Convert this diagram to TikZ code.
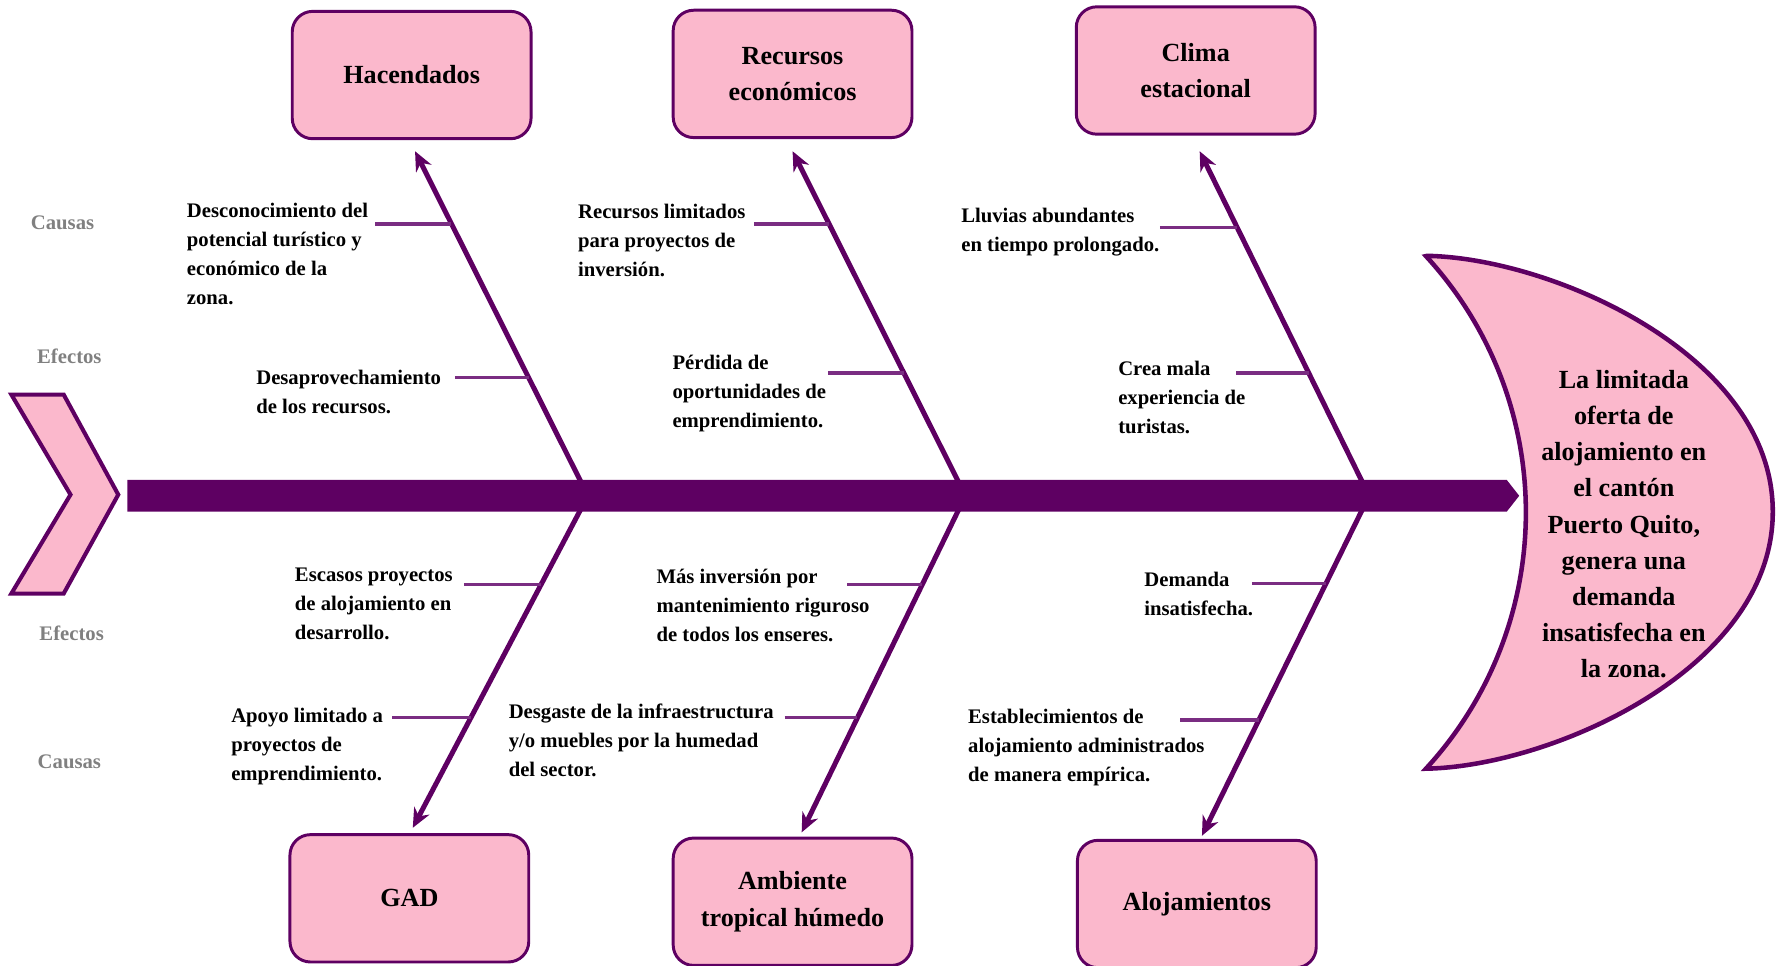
\documentclass[tikz,border=0pt]{standalone}
\usepackage{fontspec}
\setmainfont{Liberation Serif}
\usetikzlibrary{arrows.meta}

\definecolor{rosa}{RGB}{251,184,204}
\definecolor{morado}{RGB}{94,0,98}
\definecolor{lila}{RGB}{122,45,130}
\definecolor{gris}{RGB}{128,128,128}

\tikzset{
    caja/.style = {draw = morado, line width = 1.3pt, fill = rosa, rounded corners = 9pt,
        minimum width = 105pt, minimum height = 56pt, align = center,
        font = \fontsize{11.5}{16}\selectfont\bfseries},
    nota/.style = {anchor = north west, inner sep = 0pt, align = left,
        font = \fontsize{9.1}{12.75}\selectfont\bfseries},
    lado/.style = {text = gris, inner sep = 0pt, font = \fontsize{9.1}{11}\selectfont\bfseries},
    hueso/.style = {draw = morado, line width = 2.2pt, -{Stealth[length = 8.5pt, width = 7.5pt]}},
    rama/.style = {draw = lila, line width = 1.5pt},
}

\begin{document}
\begin{tikzpicture}[x = 0.5pt, y = -0.5pt]
    \useasboundingbox (0, 0) rectangle (1568, 849);

    % categorias
    \node [caja] (hac) at (362, 66) {Hacendados};
    \node [caja] (rec) at (697, 65) {Recursos\\económicos};
    \node [caja] (cli) at (1051.5, 62) {Clima\\estacional};
    \node [caja] (gad) at (360, 790) {GAD};
    \node [caja] (amb) at (697, 793) {Ambiente\\tropical húmedo};
    \node [caja] (alo) at (1052.5, 795) {Alojamientos};

    % huesos
    \coordinate (e1) at (517, 436);
    \coordinate (e2) at (849, 436);
    \coordinate (e3) at (1204, 436);
    \coordinate (p1) at (365, 133);
    \coordinate (p2) at (697, 133);
    \coordinate (p3) at (1055, 133);
    \coordinate (q1) at (363, 728);
    \coordinate (q2) at (705, 732);
    \coordinate (q3) at (1057, 735);

    \draw [hueso] (e1) -- (p1);
    \draw [hueso] (e2) -- (p2);
    \draw [hueso] (e3) -- (p3);
    \draw [hueso] (e1) -- (q1);
    \draw [hueso] (e2) -- (q2);
    \draw [hueso] (e3) -- (q3);

    % espina
    \fill [morado] (112, 422) -- (1325, 422) -- (1336, 436) -- (1325, 450) -- (112, 450) -- cycle;

    % cola
    \filldraw [fill = rosa, draw = morado, line width = 1.8pt]
        (10, 347) -- (56, 347) -- (104, 435) -- (56, 522) -- (10, 522) -- (62, 435) -- cycle;

    % cabeza
    \filldraw [fill = rosa, draw = morado, line width = 2pt]
        (1255, 225) .. controls (1365, 227) and (1559, 312) .. (1559, 450)
        .. controls (1559, 588) and (1365, 674) .. (1254, 676)
        arc [start angle = -42.6, end angle = 42.6, radius = 166.5pt] -- cycle;
    \node (efecto) at (1428, 461) [align = center, font = \fontsize{11.5}{15.9}\selectfont\bfseries]
        {La limitada\\oferta de\\alojamiento en\\el cantón\\Puerto Quito,\\genera una\\demanda\\insatisfecha en\\la zona.};

    % etiquetas laterales
    \node [lado] (causa1) at (55, 196) {Causas};
    \node [lado] (efec1) at (61, 313) {Efectos};
    \node [lado] (efec2) at (63, 557) {Efectos};
    \node [lado] (causa2) at (61, 670) {Causas};

    % arriba
    \node [nota] (desc) at (164, 178) {Desconocimiento del\\potencial turístico y\\económico de la\\zona.};
    \node [nota] (desap) at (225, 325) {Desaprovechamiento\\de los recursos.};
    \node [nota] (recl) at (508, 179) {Recursos limitados\\para proyectos de\\inversión.};
    \node [nota] (perd) at (591, 312) {Pérdida de\\oportunidades de\\emprendimiento.};
    \node [nota] (lluv) at (845, 183) {Lluvias abundantes\\en tiempo prolongado.};
    \node [nota] (crea) at (983, 317) {Crea mala\\experiencia de\\turistas.};

    \coordinate (a1) at (330, 197);   \coordinate (b1) at (397, 197);
    \coordinate (a2) at (400, 332);   \coordinate (b2) at (465, 332);
    \coordinate (a3) at (663, 197);   \coordinate (b3) at (729, 197);
    \coordinate (a4) at (728, 328);   \coordinate (b4) at (795, 328);
    \coordinate (a5) at (1020, 200);  \coordinate (b5) at (1088, 200);
    \coordinate (a6) at (1087, 328);  \coordinate (b6) at (1151, 328);

    \draw [rama] (a1) -- (b1);
    \draw [rama] (a2) -- (b2);
    \draw [rama] (a3) -- (b3);
    \draw [rama] (a4) -- (b4);
    \draw [rama] (a5) -- (b5);
    \draw [rama] (a6) -- (b6);

    % abajo
    \node [nota] (escas) at (259, 499) {Escasos proyectos\\de alojamiento en\\desarrollo.};
    \node [nota] (apoyo) at (203, 622) {Apoyo limitado a\\proyectos de\\emprendimiento.};
    \node [nota] (mas) at (577, 500) {Más inversión por\\mantenimiento riguroso\\de todos los enseres.};
    \node [nota] (desg) at (447, 619) {Desgaste de la infraestructura\\y/o muebles por la humedad\\del sector.};
    \node [nota] (dem) at (1006, 503) {Demanda\\insatisfecha.};
    \node [nota] (estab) at (851, 623) {Establecimientos de\\alojamiento administrados\\de manera empírica.};

    \coordinate (c1) at (408, 514);   \coordinate (d1) at (476, 514);
    \coordinate (c2) at (345, 631);   \coordinate (d2) at (414, 631);
    \coordinate (c3) at (745, 514);   \coordinate (d3) at (811, 514);
    \coordinate (c4) at (690, 631);   \coordinate (d4) at (754, 631);
    \coordinate (c5) at (1101, 513);  \coordinate (d5) at (1166, 513);
    \coordinate (c6) at (1038, 633);  \coordinate (d6) at (1107, 633);

    \draw [rama] (c1) -- (d1);
    \draw [rama] (c2) -- (d2);
    \draw [rama] (c3) -- (d3);
    \draw [rama] (c4) -- (d4);
    \draw [rama] (c5) -- (d5);
    \draw [rama] (c6) -- (d6);
\end{tikzpicture}
\end{document}
